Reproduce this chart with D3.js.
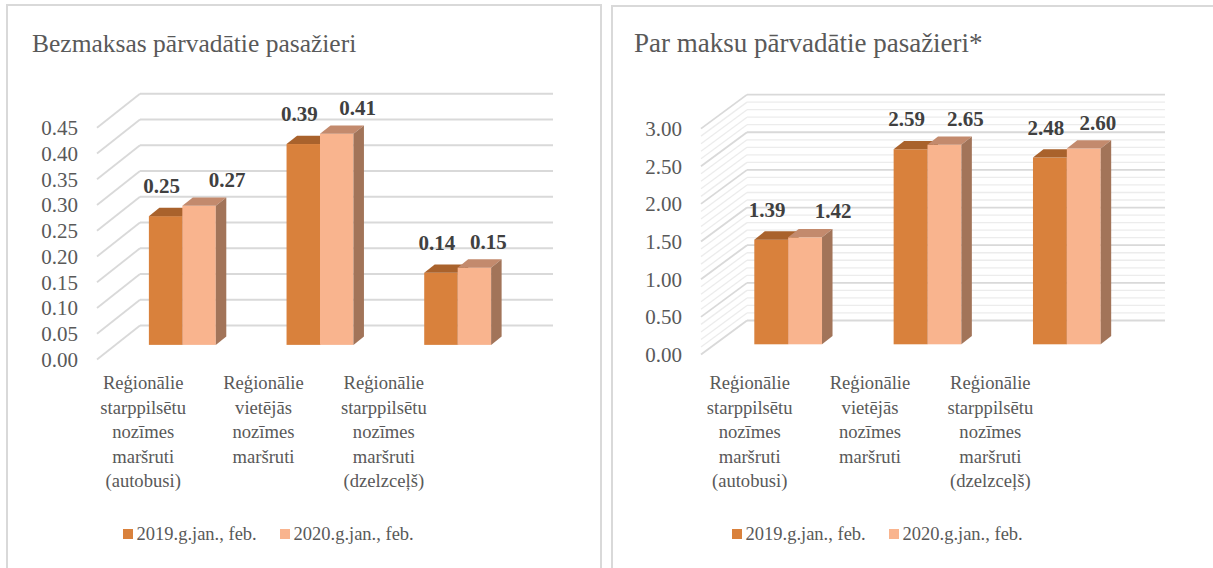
<!DOCTYPE html>
<html>
<head>
<meta charset="utf-8">
<script src="https://cdn.jsdelivr.net/npm/d3@7"></script>
<style>
  body { margin: 0; background: #fff; }
  svg { display: block; font-family: "Liberation Serif", "Times New Roman", serif; }
</style>
</head>
<body>
<svg id="chart"></svg>
<script>
const w = 1213;
const h = 568;

// data
const categories = [
  ["Reģionālie", "starppilsētu", "nozīmes", "maršruti", "(autobusi)"],
  ["Reģionālie", "vietējās", "nozīmes", "maršruti"],
  ["Reģionālie", "starppilsētu", "nozīmes", "maršruti", "(dzelzceļš)"]
];
const seriesNames = ["2019.g.jan., feb.", "2020.g.jan., feb."];

const freeTitle = "Bezmaksas pārvadātie pasažieri";
const free2019 = [0.25, 0.39, 0.14];
const free2020 = [0.27, 0.41, 0.15];
const freeTicks = [0, 0.05, 0.10, 0.15, 0.20, 0.25, 0.30, 0.35, 0.40, 0.45];

const paidTitle = "Par maksu pārvadātie pasažieri*";
const paid2019 = [1.39, 2.59, 2.48];
const paid2020 = [1.42, 2.65, 2.60];
const paidTicks = [0, 0.5, 1.0, 1.5, 2.0, 2.5, 3.0];
const paidMinor = [0.1, 0.2, 0.3, 0.4, 0.6, 0.7, 0.8, 0.9, 1.1, 1.2, 1.3, 1.4,
  1.6, 1.7, 1.8, 1.9, 2.1, 2.2, 2.3, 2.4, 2.6, 2.7, 2.8, 2.9];

const fills = {
  front: ["#d9813c", "#f9b48e"],
  top: ["#a9622c", "#c38a6d"],
  side: ["#8f5526", "#a27459"]
};

const svg = d3.select("#chart")
  .attr("width", w)
  .attr("height", h)
  .attr("viewBox", [0, 0, w, h]);

svg.append("rect").attr("width", w).attr("height", h).attr("fill", "#fff");

function drawPanel(o) {
  const g = svg.append("g");

  g.append("rect")
    .attr("x", o.px).attr("y", o.py)
    .attr("width", o.pw).attr("height", h + 20)
    .attr("fill", "none")
    .attr("stroke", "#d9d9d9")
    .attr("stroke-width", 2);

  g.append("text")
    .attr("x", o.titleX).attr("y", 52)
    .attr("font-size", o.titleSize)
    .attr("fill", "#595959")
    .text(o.title);

  // value scale along the front edge of the floor
  const yFront = d3.scaleLinear().domain([0, o.max]).range([o.y0, o.y0 - o.k * o.max]);
  const backX0 = o.x0 + o.ddx;
  const backX1 = backX0 + o.W;

  function gridLines(ticks, color, width) {
    const gl = g.append("g");
    gl.selectAll("line.back")
      .data(ticks).enter().append("line")
      .attr("x1", backX0).attr("x2", backX1)
      .attr("y1", d => yFront(d) + o.ddy).attr("y2", d => yFront(d) + o.ddy)
      .attr("stroke", color).attr("stroke-width", width);
    gl.selectAll("line.side")
      .data(ticks).enter().append("line")
      .attr("x1", o.x0).attr("x2", backX0)
      .attr("y1", d => yFront(d)).attr("y2", d => yFront(d) + o.ddy)
      .attr("stroke", color).attr("stroke-width", width);
  }
  if (o.minor) gridLines(o.minor, "#ececec", 1.3);
  gridLines(o.ticks, "#d9d9d9", 1.8);

  g.append("g").selectAll("text")
    .data(o.ticks).enter().append("text")
    .attr("x", o.x0 - 19)
    .attr("y", d => yFront(d))
    .attr("dy", "0.35em")
    .attr("text-anchor", "end")
    .attr("font-size", 21)
    .attr("fill", "#595959")
    .text(d => d3.format(o.fmt)(d));

  // bars
  const x = d3.scaleBand()
    .domain(d3.range(categories.length))
    .range([o.barX0, o.barX0 + o.W])
    .paddingInner(0.514)
    .paddingOuter(0.257);
  const xs = d3.scaleBand().domain([0, 1]).range([0, x.bandwidth()]);
  const base = o.y0 + o.f * o.ddy;
  const yBar = d3.scaleLinear().domain([0, o.max]).range([base, base - o.k * o.max]);
  const td = 10.5, tdy = -8.3;

  const rows = [];
  o.values.forEach((vals, s) => vals.forEach((v, i) => rows.push({ s, i, v })));

  const bars = g.append("g").selectAll("g")
    .data(rows).enter().append("g");

  bars.append("rect")
    .attr("x", d => x(d.i) + xs(d.s))
    .attr("y", d => yBar(d.v))
    .attr("width", xs.bandwidth())
    .attr("height", d => base - yBar(d.v))
    .attr("fill", d => fills.front[d.s]);

  bars.append("polygon")
    .attr("points", d => {
      const xl = x(d.i) + xs(d.s), xr = xl + xs.bandwidth(), yt = yBar(d.v);
      return [[xl, yt], [xr, yt], [xr + td, yt + tdy], [xl + td, yt + tdy]].join(" ");
    })
    .attr("fill", d => fills.top[d.s]);

  bars.append("polygon")
    .attr("points", d => {
      const xr = x(d.i) + xs(d.s) + xs.bandwidth(), yt = yBar(d.v);
      return [[xr, yt], [xr + td, yt + tdy], [xr + td, base + tdy], [xr, base]].join(" ");
    })
    .attr("fill", d => fills.side[d.s]);

  // data labels
  g.append("g").selectAll("text")
    .data(rows).enter().append("text")
    .attr("x", d => x(d.i) + xs(d.s) + xs.bandwidth() / 2 + (d.s === 0 ? -4 : 28 - 7 * d.i))
    .attr("y", d => yBar(d.v) - (d.s === 0 ? 23 : 19))
    .attr("text-anchor", "middle")
    .attr("font-size", 21)
    .attr("font-weight", "bold")
    .attr("fill", "#404040")
    .text(d => d3.format(".2f")(d.v));

  // category labels
  const lx = d3.scaleBand()
    .domain(d3.range(categories.length))
    .range([o.labelX0, o.labelX0 + 361]);
  const cat = g.append("g").selectAll("text")
    .data(categories).enter().append("text")
    .attr("x", (d, i) => lx(i) + lx.bandwidth() / 2)
    .attr("y", 389)
    .attr("text-anchor", "middle")
    .attr("font-size", 18.6)
    .attr("fill", "#595959");
  cat.selectAll("tspan")
    .data(d => d).enter().append("tspan")
    .attr("x", function() { return this.parentNode.getAttribute("x"); })
    .attr("dy", (d, j) => j === 0 ? 0 : 24.6)
    .text(d => d);

  // legend
  const leg = g.append("g").selectAll("g")
    .data(seriesNames).enter().append("g")
    .attr("transform", (d, i) => `translate(${o.legX + i * 157},540)`);
  leg.append("rect")
    .attr("x", 0).attr("y", -11)
    .attr("width", 10).attr("height", 10)
    .attr("fill", (d, i) => fills.front[i]);
  leg.append("text")
    .attr("x", 13.5).attr("y", 0)
    .attr("font-size", 18.5)
    .attr("fill", "#595959")
    .text(d => d);
}

drawPanel({
  px: 7, py: 5, pw: 594,
  title: freeTitle, titleX: 32, titleSize: 25.5,
  values: [free2019, free2020], ticks: freeTicks, max: 0.45, fmt: ".2f",
  x0: 97, y0: 359.5, k: 515, ddx: 43, ddy: -34, W: 413, f: 0.43,
  barX0: 113.5, labelX0: 83, legX: 123
});

drawPanel({
  px: 612, py: 6, pw: 640,
  title: paidTitle, titleX: 634, titleSize: 27,
  values: [paid2019, paid2020], ticks: paidTicks, minor: paidMinor, max: 3, fmt: ".2f",
  x0: 701, y0: 354.5, k: 75.3, ddx: 46, ddy: -34, W: 418, f: 0.3,
  barX0: 718.5, labelX0: 689.5, legX: 732
});
</script>
</body>
</html>
